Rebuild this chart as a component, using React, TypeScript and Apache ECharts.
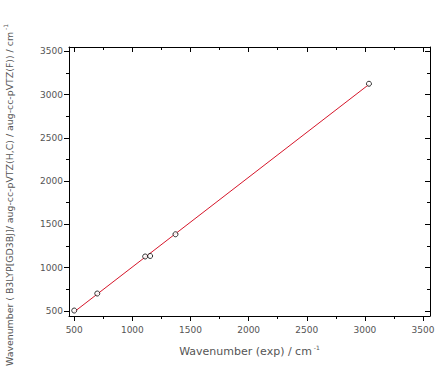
import React, { useEffect, useRef } from "react";
import * as echarts from "echarts";

// Experimental vs. computed wavenumbers (cm^-1)
const expWavenumber = [500, 698, 1110, 1153, 1371, 3035];
const calcWavenumber = [503, 700, 1128, 1134, 1385, 3125];

const majorTicks = [500, 1000, 1500, 2000, 2500, 3000, 3500];
const minorTicks = [750, 1250, 1750, 2250, 2750, 3250];

const xTitle = "Wavenumber (exp) / cm";
const yTitle = "Wavenumber ( B3LYP[GD3BJ]/ aug-cc-pVTZ(H,C) / aug-cc-pVTZ(F)) / cm";

// Least-squares line through the measured pairs
function linearFit(xs: number[], ys: number[]) {
  const n = xs.length;
  const mx = xs.reduce((a, b) => a + b, 0) / n;
  const my = ys.reduce((a, b) => a + b, 0) / n;
  let sxy = 0;
  let sxx = 0;
  for (let i = 0; i < n; i++) {
    sxy += (xs[i] - mx) * (ys[i] - my);
    sxx += (xs[i] - mx) * (xs[i] - mx);
  }
  const slope = sxy / sxx;
  return { slope, intercept: my - slope * mx };
}

const FONT = "'DejaVu Sans', Arial, sans-serif";
const LABEL_COLOR = "#555";

const xRange = { min: 455, max: 3560 };
const yRange = { min: 440, max: 3550 };

function frameAxis(
  position: string,
  range: { min: number; max: number },
  ticks: number[],
  opts: { label: boolean; inside: boolean; length: number; line: boolean; margin?: number }
) {
  return {
    type: "value",
    position,
    min: range.min,
    max: range.max,
    splitLine: { show: false },
    axisLine: { show: opts.line, onZero: false, lineStyle: { color: "#000", width: 1 } },
    axisTick: {
      show: true,
      inside: opts.inside,
      length: opts.length,
      customValues: ticks,
      lineStyle: { color: "#000", width: 1 },
    },
    axisLabel: {
      show: opts.label,
      customValues: ticks,
      formatter: (v: number) => String(v),
      color: LABEL_COLOR,
      fontSize: 9,
      fontFamily: FONT,
      margin: opts.margin ?? 6,
    },
  };
}

export default function App() {
  const ref = useRef<HTMLDivElement>(null);

  useEffect(() => {
    if (!ref.current) return;
    const chart = echarts.init(ref.current, null, { renderer: "svg" });
    const fit = linearFit(expWavenumber, calcWavenumber);
    const x0 = Math.min(...expWavenumber);
    const x1 = Math.max(...expWavenumber);
    const fitLine = [
      [x0, fit.slope * x0 + fit.intercept],
      [x1, fit.slope * x1 + fit.intercept],
    ];

    const xMain: any = frameAxis("bottom", xRange, majorTicks, {
      label: true, inside: false, length: 5, line: true, margin: 9,
    });
    xMain.name = `{t|${xTitle}}{s|-1}`;
    xMain.nameLocation = "middle";
    xMain.nameGap = 28;
    xMain.nameTextStyle = {
      rich: {
        t: { fontSize: 11, color: LABEL_COLOR, fontFamily: FONT },
        s: { fontSize: 6, color: LABEL_COLOR, fontFamily: FONT, padding: [0, 0, 9, 2] },
      },
    };

    const yMain: any = frameAxis("left", yRange, majorTicks, {
      label: true, inside: false, length: 5, line: true, margin: 6,
    });
    yMain.name = `{t|${yTitle}}{s|-1}`;
    yMain.nameLocation = "middle";
    yMain.nameGap = 52;
    yMain.nameTextStyle = {
      padding: [0, 27, 0, 0],
      rich: {
        t: { fontSize: 9.4, color: LABEL_COLOR, fontFamily: FONT },
        s: { fontSize: 6, color: LABEL_COLOR, fontFamily: FONT, padding: [0, 0, 9, 2] },
      },
    };

    chart.setOption({
      animation: false,
      backgroundColor: "#fff",
      grid: { left: 69, right: 7, top: 47, bottom: 56, outerBoundsMode: "none", containLabel: false },
      xAxis: [
        xMain,
        frameAxis("bottom", xRange, minorTicks, { label: false, inside: false, length: 3, line: false }),
        frameAxis("top", xRange, majorTicks, { label: false, inside: true, length: 5, line: true }),
        frameAxis("top", xRange, minorTicks, { label: false, inside: true, length: 3, line: false }),
      ],
      yAxis: [
        yMain,
        frameAxis("left", yRange, minorTicks, { label: false, inside: false, length: 3, line: false }),
        frameAxis("right", yRange, majorTicks, { label: false, inside: true, length: 5, line: true }),
        frameAxis("right", yRange, minorTicks, { label: false, inside: true, length: 3, line: false }),
      ],
      series: [
        {
          type: "line",
          xAxisIndex: 0,
          yAxisIndex: 0,
          data: fitLine,
          showSymbol: false,
          symbol: "none",
          lineStyle: { color: "#d6162a", width: 1 },
          z: 2,
        },
        {
          type: "scatter",
          xAxisIndex: 0,
          yAxisIndex: 0,
          data: expWavenumber.map((x, i) => [x, calcWavenumber[i]]),
          symbol: "circle",
          symbolSize: 5,
          itemStyle: { color: "#fff", borderColor: "#000", borderWidth: 1 },
          z: 3,
        },
      ],
    });
    return () => chart.dispose();
  }, []);

  return (
    <div
      ref={ref}
      style={{ position: "fixed", left: 0, top: 0, width: 437, height: 372, background: "#fff" }}
    />
  );
}
